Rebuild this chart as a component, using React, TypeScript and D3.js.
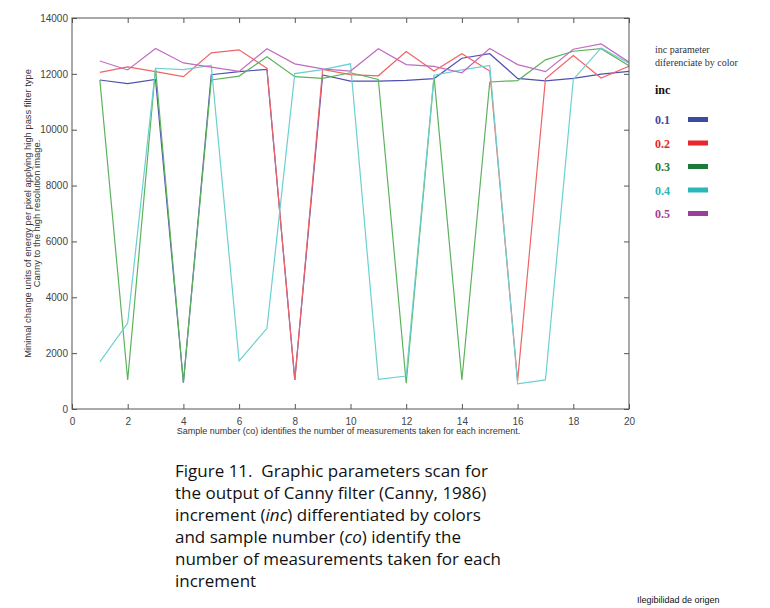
import { useEffect, useRef } from 'react'
import * as d3 from 'd3'

const samples = d3.range(1, 21)

const inc01 = [11780, 11650, 11800, 940, 11970, 12080, 12160, 1040, 11960, 11740, 11740, 11770, 11830, 12560, 12720, 11840, 11750, 11840, 11990, 12090]
const inc02 = [12050, 12250, 12080, 11900, 12750, 12860, 12200, 1040, 12160, 11970, 11930, 12800, 12100, 12720, 12100, 1000, 11820, 12660, 11850, 12270]
const inc03 = [11780, 1040, 12200, 950, 11780, 11920, 12610, 11900, 11840, 12040, 11800, 920, 11900, 1040, 11710, 11760, 12500, 12810, 12900, 12290]
const inc04 = [1690, 3080, 12200, 12150, 12300, 1720, 2890, 12010, 12150, 12360, 1060, 1180, 11950, 12140, 12300, 900, 1040, 11800, 12930, 12380]
const inc05 = [12460, 12140, 12910, 12390, 12240, 12090, 12900, 12360, 12180, 12100, 12900, 12330, 12270, 12040, 12910, 12330, 12080, 12880, 13070, 12420]

const series = [
  { label: '0.1', values: inc01, line: '#5050b4', key: '#3b4aa3' },
  { label: '0.2', values: inc02, line: '#f06464', key: '#e8262b' },
  { label: '0.3', values: inc03, line: '#5cb35c', key: '#1d7a38' },
  { label: '0.4', values: inc04, line: '#6ccfd0', key: '#2ab7bb' },
  { label: '0.5', values: inc05, line: '#c06cc0', key: '#9c3f9c' },
]

const xTicks = [0, 2, 4, 6, 8, 10, 12, 14, 16, 18, 20]
const yTicks = [0, 2000, 4000, 6000, 8000, 10000, 12000, 14000]

const captionLines = [
  [{ t: 'Figure 11.  Graphic parameters scan for' }],
  [{ t: 'the output of Canny filter (Canny, 1986)' }],
  [{ t: 'increment (' }, { t: 'inc', i: true }, { t: ') differentiated by colors' }],
  [{ t: 'and sample number (' }, { t: 'co', i: true }, { t: ') identify the' }],
  [{ t: 'number of measurements taken for each' }],
  [{ t: 'increment' }],
]

const PLOT = { left: 72, right: 629, top: 18, bottom: 409 }
const AXIS_FONT = 'Arial, "Liberation Sans", sans-serif'

export default function App() {
  const svgRef = useRef<SVGSVGElement>(null)

  useEffect(() => {
    if (!svgRef.current) return
    const svg = d3.select(svgRef.current)
    svg.selectAll('*').remove()

    const x = d3.scaleLinear().domain([0, 20]).range([PLOT.left, PLOT.right])
    const y = d3.scaleLinear().domain([0, 14000]).range([PLOT.bottom, PLOT.top])

    const g = svg.append('g')

    // series lines
    const line = d3.line<number>().x((_, i) => x(samples[i])).y(d => y(d))
    series.forEach(s => {
      g.append('path')
        .datum(s.values)
        .attr('d', line)
        .attr('fill', 'none')
        .attr('stroke', s.line)
        .attr('stroke-width', 1.2)
    })

    // frame + inward ticks
    const styleAxis = (ax: d3.Selection<SVGGElement, unknown, null, undefined>) => {
      ax.select('.domain').remove()
      ax.selectAll('line').attr('stroke', '#555')
      ax.selectAll('text').style('fill', '#444').style('font-size', '10px').style('font-family', AXIS_FONT)
    }

    g.append('g').attr('transform', `translate(0,${PLOT.bottom})`)
      .call(d3.axisBottom(x).tickValues(xTicks).tickSizeInner(-5).tickPadding(9).tickFormat(d3.format('d')))
      .call(styleAxis)
    g.append('g').attr('transform', `translate(0,${PLOT.top})`)
      .call(d3.axisTop(x).tickValues(xTicks).tickSizeInner(-5).tickFormat(() => ''))
      .call(styleAxis)
    g.append('g').attr('transform', `translate(${PLOT.left},0)`)
      .call(d3.axisLeft(y).tickValues(yTicks).tickSizeInner(-5).tickPadding(4).tickFormat(d3.format('d')))
      .call(styleAxis)
    g.append('g').attr('transform', `translate(${PLOT.right},0)`)
      .call(d3.axisRight(y).tickValues(yTicks).tickSizeInner(-5).tickFormat(() => ''))
      .call(styleAxis)

    g.append('rect')
      .attr('x', PLOT.left).attr('y', PLOT.top)
      .attr('width', PLOT.right - PLOT.left).attr('height', PLOT.bottom - PLOT.top)
      .attr('fill', 'none').attr('stroke', '#555').attr('stroke-width', 1)

    // axis titles
    g.append('text')
      .attr('x', (PLOT.left + PLOT.right) / 2 - 2).attr('y', 434)
      .attr('text-anchor', 'middle')
      .style('font-family', AXIS_FONT).style('font-size', '9px').style('fill', '#333')
      .text('Sample number (co) identifies the number of measurements taken for each increment.')

    const yMid = (PLOT.top + PLOT.bottom) / 2
    const yt = g.append('text')
      .attr('transform', `translate(31,${yMid}) rotate(-90)`)
      .attr('text-anchor', 'middle')
      .style('font-family', AXIS_FONT).style('font-size', '9.4px').style('fill', '#333')
    yt.append('tspan').attr('x', 0).attr('dy', 0).text('Minimal change units of energy per pixel applying high pass filter type')
    yt.append('tspan').attr('x', 0).attr('dy', 8.6).text('Canny to the high resolution image.')

    // legend
    const serif = '"Liberation Serif", "DejaVu Serif", serif'
    const leg = g.append('g').attr('transform', 'translate(655,0)')
    leg.append('text').attr('y', 53).style('font-family', serif).style('font-size', '10px').style('fill', '#333')
      .text('inc parameter')
    leg.append('text').attr('y', 66).style('font-family', serif).style('font-size', '10px').style('fill', '#333')
      .text('diferenciate by color')
    leg.append('text').attr('y', 94).style('font-family', serif).style('font-size', '12px')
      .style('font-weight', 'bold').style('fill', '#111').text('inc')

    const legY = d3.scalePoint<string>().domain(series.map(s => s.label)).range([124, 218])
    series.forEach(s => {
      const row = leg.append('g').attr('transform', `translate(0,${legY(s.label)})`)
      row.append('text').style('font-family', serif).style('font-size', '12px')
        .style('font-weight', 'bold').style('fill', s.key).text(s.label)
      row.append('rect').attr('x', 33).attr('y', -7).attr('width', 20).attr('height', 5).attr('fill', s.key)
    })

    // caption
    const cap = g.append('g').attr('transform', 'translate(175,0)')
    const capY = d3.scaleLinear().domain([0, 1]).range([477, 499])
    captionLines.forEach((parts, i) => {
      const t = cap.append('text').attr('x', 0).attr('y', capY(i))
        .style('white-space', 'pre')
        .style('font-family', '"Open Sans", sans-serif').style('font-size', '17px').style('fill', '#111')
      parts.forEach(p => {
        t.append('tspan').style('font-style', p.i ? 'italic' : 'normal').text(p.t)
      })
    })

    g.append('text').attr('x', 637).attr('y', 603)
      .style('font-family', AXIS_FONT).style('font-size', '9px').style('fill', '#111')
      .text('Ilegibilidad de origen')
  }, [])

  return (
    <svg
      ref={svgRef}
      width={770}
      height={608}
      style={{ position: 'absolute', left: 0, top: 0, background: '#fff' }}
    />
  )
}
